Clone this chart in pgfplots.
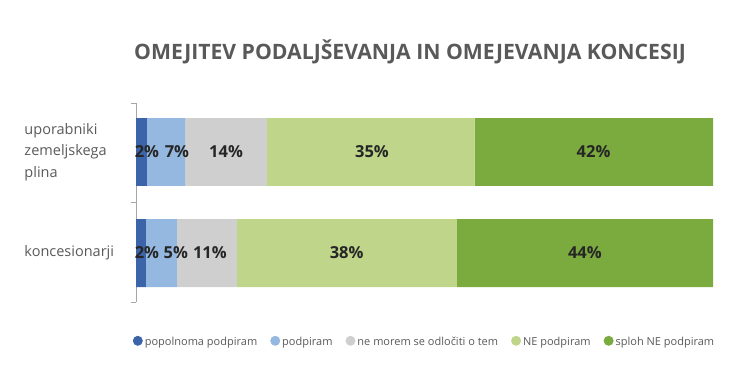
\documentclass[border=0pt]{standalone}
\usepackage{pgfplots}
\pgfplotsset{compat=1.18}
\usepackage{fontspec}
\setmainfont{Open Sans}
\definecolor{cA}{HTML}{3C64A8}
\definecolor{cB}{HTML}{95B8E0}
\definecolor{cC}{HTML}{CFCFCF}
\definecolor{cD}{HTML}{BED58A}
\definecolor{cE}{HTML}{7BAA3F}
\definecolor{txt}{HTML}{595959}
\begin{document}
\begin{tikzpicture}[x=1pt,y=1pt]
\path[use as bounding box] (0,0) rectangle (736,383);
\node[font=\fontsize{21.2}{24}\selectfont\bfseries, text=txt] at (410,331) {OMEJITEV PODALJŠEVANJA IN OMEJEVANJA KONCESIJ};
\begin{axis}[
  at={(136pt,81pt)}, anchor=south west,
  scale only axis, width=577pt, height=199pt,
  xbar stacked, bar width=0.673,
  xmin=0, xmax=100, ymin=-0.485, ymax=1.485,
  hide x axis,
  axis y line*=left,
  y axis line style={draw=gray!70, line width=0.8pt},
  ytick={-0.485,0.5,1.485}, yticklabels={},
  tick align=outside, major tick length=5pt,
  ytick style={draw=gray!70, line width=0.8pt},
  extra y ticks={0,1},
  extra y tick labels={koncesionarji, {uporabniki\\zemeljskega\\plina}},
  extra y tick style={major tick length=0pt, tick style={draw=none}},
  yticklabel style={font=\fontsize{14.5}{21.5}\selectfont, text=txt, text width=108pt, align=left},
  legend style={at={(0.5,-0.2)}, anchor=center, draw=none, fill=none,
    font=\fontsize{11}{12}\selectfont, text=txt, legend columns=5,
    /tikz/every even column/.append style={column sep=11pt}},
  legend image code/.code={\fill[#1] (0.25em,0.1em) circle (0.5em);},
]
\addplot[fill=cA, draw=none] coordinates {(1.9,1) (1.7,0)};
\addplot[fill=cB, draw=none] coordinates {(6.6,1) (5.4,0)};
\addplot[fill=cC, draw=none] coordinates {(14.2,1) (10.4,0)};
\addplot[fill=cD, draw=none] coordinates {(36.0,1) (38.1,0)};
\addplot[fill=cE, draw=none] coordinates {(41.3,1) (44.4,0)};
\legend{popolnoma podpiram, podpiram, ne morem se odločiti o tem, NE podpiram, sploh NE podpiram}
\end{axis}
\begin{axis}[
  at={(136pt,81pt)}, anchor=south west,
  scale only axis, width=577pt, height=199pt,
  xmin=0, xmax=100, ymin=-0.485, ymax=1.485,
  hide axis,
]
\addplot[only marks, mark=none, nodes near coords, point meta=explicit symbolic,
  every node near coord/.style={anchor=center, font=\fontsize{16.5}{18}\selectfont\bfseries, text=black!85}]
  coordinates {
  (1.9,1) [2\%] (7.1,1) [7\%] (15.6,1) [14\%] (40.9,1) [35\%] (79.3,1) [42\%]
  (1.9,0) [2\%] (6.9,0) [5\%] (12.8,0) [11\%] (36.5,0) [38\%] (77.8,0) [44\%]
  };
\end{axis}
\end{tikzpicture}
\end{document}
